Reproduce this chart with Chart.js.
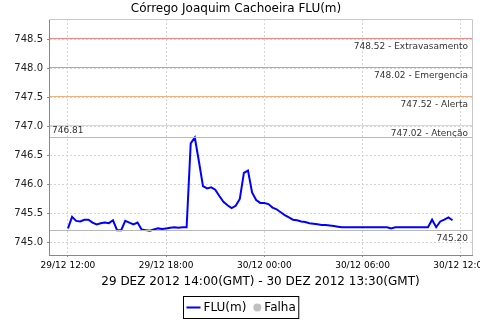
<!DOCTYPE html>
<html>
<head>
<meta charset="utf-8">
<script src="https://cdn.jsdelivr.net/npm/chart.js@4"></script>
<style>
  html, body { margin: 0; padding: 0; background: #fff; }
  #wrap { width: 480px; height: 320px; }
</style>
</head>
<body>
<div id="wrap"><canvas id="levelChart"></canvas></div>
<script>
// readings every 15 min, starting 29/12 12:00 (hours counted from 29/12 00:00)
const startHour = 12;
const stepHours = 0.25;
const levels = [
    745.24, 745.44, 745.37, 745.36, 745.39, 745.39, 745.34, 745.31, 745.33, 745.34,
    745.33, 745.38, 745.21, 745.21, 745.37, 745.34, 745.31, 745.34, 745.22, 745.21,
    745.20, 745.22, 745.24, 745.23, 745.24, 745.25, 745.26, 745.25, 745.26, 745.26,
    746.71, 746.81, 746.40, 745.97, 745.93, 745.95, 745.91, 745.80, 745.70, 745.64,
    745.59, 745.63, 745.75, 746.20, 746.24, 745.86, 745.73, 745.68, 745.68, 745.66,
    745.60, 745.57, 745.52, 745.47, 745.43, 745.39, 745.38, 745.36, 745.35, 745.33,
    745.32, 745.31, 745.30, 745.30, 745.29, 745.28, 745.27, 745.26, 745.26, 745.26,
    745.26, 745.26, 745.26, 745.26, 745.26, 745.26, 745.26, 745.26, 745.26, 745.24,
    745.26, 745.26, 745.26, 745.26, 745.26, 745.26, 745.26, 745.26, 745.26, 745.39,
    745.26, 745.36, 745.39, 745.43, 745.38,
];

const xTickValues = [12, 18, 24, 30, 36];
const xTickLabels = ['29/12 12:00', '29/12 18:00', '30/12 00:00', '30/12 06:00', '30/12 12:00'];
const yTickValues = [745.0, 745.5, 746.0, 746.5, 747.0, 747.5, 748.0, 748.5];

const thresholdValues = [748.52, 748.02, 747.52, 747.02];
const thresholdNames = ['Extravasamento', 'Emergencia', 'Alerta', 'Atenção'];
const thresholdColors = ['#f08888', '#ff70ff', '#f0b080', '#ffdd44'];

const FONT = "'DejaVu Sans', sans-serif";

const maxLevel = Math.max(...levels);
const minLevel = Math.min(...levels);

const referenceLines = {
    id: 'referenceLines',
    afterDatasetsDraw(chart) {
        const { ctx, chartArea: area, scales: { y } } = chart;
        ctx.save();
        ctx.setLineDash([]);
        ctx.font = `9px ${FONT}`;
        ctx.fillStyle = '#333';
        ctx.textBaseline = 'middle';

        const hline = (value, color) => {
            const py = Math.floor(y.getPixelForValue(value)) + 0.5;
            ctx.strokeStyle = color;
            ctx.lineWidth = 1;
            ctx.beginPath();
            ctx.moveTo(area.left + 1, py);
            ctx.lineTo(area.right, py);
            ctx.stroke();
            return py;
        };

        thresholdValues.forEach((value, i) => {
            const py = hline(value, thresholdColors[i]);
            ctx.textAlign = 'right';
            ctx.fillText(`${value.toFixed(2)} - ${thresholdNames[i]}`, area.right - 4, py + 8);
        });

        let py = hline(maxLevel, '#b8b8b8');
        ctx.textAlign = 'left';
        ctx.fillText(maxLevel.toFixed(2), area.left + 3, py - 7);

        py = hline(minLevel, '#b8b8b8');
        ctx.textAlign = 'right';
        ctx.fillText(minLevel.toFixed(2), area.right - 4, py + 8);

        // top and right frame
        ctx.strokeStyle = '#c8c8c8';
        ctx.beginPath();
        ctx.moveTo(area.left, area.top + 0.5);
        ctx.lineTo(area.right + 0.5, area.top + 0.5);
        ctx.lineTo(area.right + 0.5, area.bottom);
        ctx.stroke();
        ctx.restore();
    },
};

const boxedLegend = {
    id: 'boxedLegend',
    afterDraw(chart) {
        const { ctx } = chart;
        const items = chart.data.datasets;
        ctx.save();
        ctx.font = `12px ${FONT}`;
        ctx.textBaseline = 'middle';
        const pad = 3;
        const parts = items.map((ds) => ({
            ds,
            mark: ds.pointStyle === 'circle' ? 8 : 14,
            text: ctx.measureText(ds.label).width,
        }));
        let width = pad * 2;
        parts.forEach((p, i) => {
            width += p.mark + 3 + p.text + (i < parts.length - 1 ? 7 : 0);
        });
        const height = 22;
        const left = Math.round(240.5 - width / 2) + 0.5;
        const top = 296.5;
        ctx.strokeStyle = '#000';
        ctx.lineWidth = 1;
        ctx.strokeRect(left, top, width, height);

        const cy = top + height / 2;
        let x = left + pad;
        parts.forEach((p) => {
            if (p.ds.pointStyle === 'circle') {
                ctx.fillStyle = p.ds.backgroundColor;
                ctx.beginPath();
                ctx.arc(x + 4, cy, 4, 0, Math.PI * 2);
                ctx.fill();
            } else {
                ctx.strokeStyle = p.ds.borderColor;
                ctx.lineWidth = 2;
                ctx.beginPath();
                ctx.moveTo(x, cy);
                ctx.lineTo(x + p.mark, cy);
                ctx.stroke();
            }
            x += p.mark + 3;
            ctx.fillStyle = '#000';
            ctx.textAlign = 'left';
            ctx.fillText(p.ds.label, x, cy);
            x += p.text + 7;
        });
        ctx.restore();
    },
};

const ctx = document.getElementById('levelChart').getContext('2d');

new Chart(ctx, {
    type: 'line',
    data: {
        datasets: [
            {
                label: 'FLU(m)',
                data: levels.map((v, i) => ({ x: startHour + i * stepHours, y: v })),
                borderColor: '#0000ff',
                backgroundColor: '#0000ff',
                borderWidth: 2,
                pointRadius: 0,
                tension: 0,
                fill: false,
                order: 0,
            },
            {
                label: 'Falha',
                data: [],
                pointStyle: 'circle',
                borderColor: '#c0c0c0',
                backgroundColor: '#c0c0c0',
            },
        ],
    },
    options: {
        responsive: true,
        maintainAspectRatio: false,
        animation: false,
        layout: {
            padding: { top: 0, right: 8, bottom: 0, left: 0 },
        },
        plugins: {
            legend: { display: false },
            tooltip: { enabled: false },
            title: {
                display: true,
                text: 'Córrego Joaquim Cachoeira FLU(m)',
                color: '#000',
                font: { family: FONT, size: 12, weight: 'normal', lineHeight: 1.2 },
                padding: { top: 2, bottom: 2.6 },
            },
        },
        scales: {
            x: {
                type: 'linear',
                min: 10.84,
                max: 36.69,
                afterBuildTicks(scale) {
                    scale.ticks = xTickValues.map((value) => ({ value }));
                },
                afterFit(scale) {
                    scale.height = 65;
                    scale.paddingLeft = 0;
                    scale.paddingRight = 0;
                },
                ticks: {
                    autoSkip: false,
                    maxRotation: 0,
                    padding: 3,
                    color: '#000',
                    font: { family: FONT, size: 9 },
                    callback(value, index) {
                        return xTickLabels[index];
                    },
                },
                grid: {
                    color: '#d4d4d4',
                    tickColor: '#888',
                    tickLength: 2,
                },
                border: { color: '#888', dash: [2, 2] },
                title: {
                    display: true,
                    text: '29 DEZ 2012 14:00(GMT) - 30 DEZ 2012 13:30(GMT)',
                    color: '#000',
                    font: { family: FONT, size: 12, lineHeight: 1.2 },
                    padding: { top: 0, bottom: 30.5 },
                },
            },
            y: {
                min: 744.78,
                max: 748.86,
                afterBuildTicks(scale) {
                    scale.ticks = yTickValues.map((value) => ({ value }));
                },
                afterFit(scale) {
                    scale.width = 49;
                    scale.paddingTop = 0;
                    scale.paddingBottom = 0;
                },
                ticks: {
                    padding: 4,
                    color: '#222',
                    font: { family: FONT, size: 10 },
                    callback(value) {
                        return Number(value).toFixed(1);
                    },
                },
                grid: {
                    color: '#d4d4d4',
                    tickColor: '#888',
                    tickLength: 2,
                },
                border: { color: '#888', dash: [2, 2] },
            },
        },
    },
    plugins: [referenceLines, boxedLegend],
});
</script>
</body>
</html>
